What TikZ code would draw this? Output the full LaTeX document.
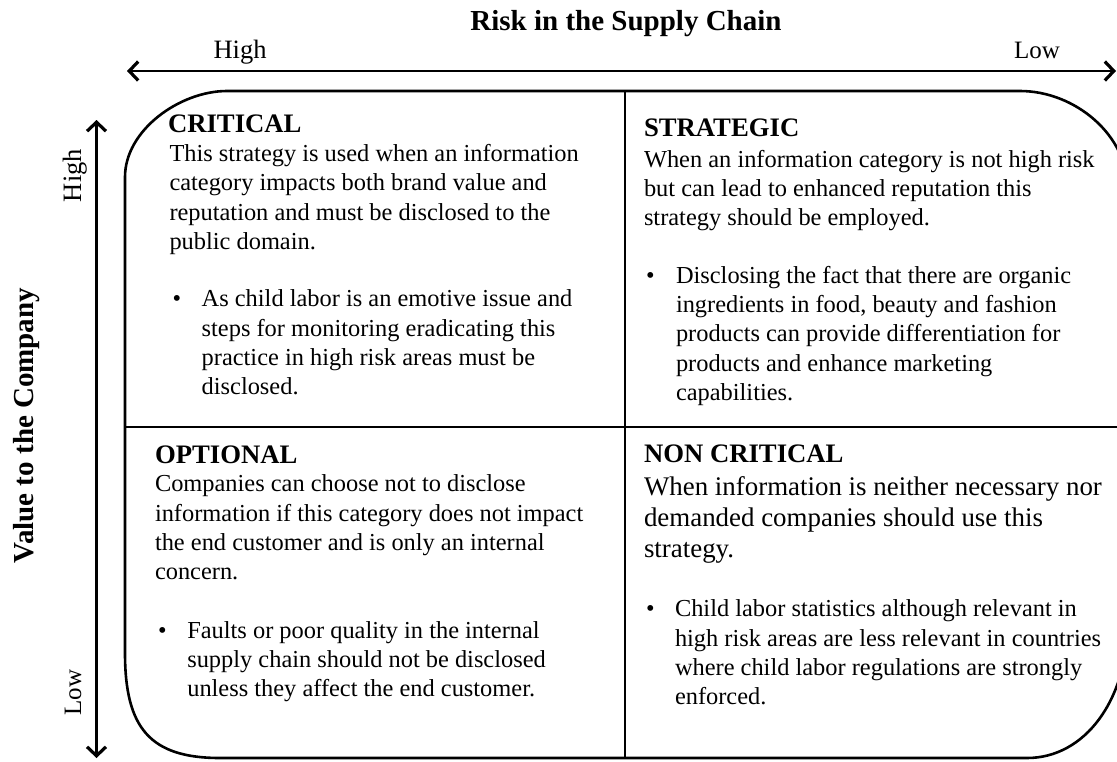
\documentclass[tikz,border=0pt]{standalone}
\usepackage{fontspec}
\setmainfont{Liberation Serif}
\usetikzlibrary{arrows.meta}
\newcommand\qbody{\fontsize{24.4}{29.3}\selectfont}
\newcommand\qbig{\fontsize{26.9}{31}\selectfont}
\newcommand\qtitle{\fontsize{26.7}{30}\selectfont\bfseries}
\newcommand\axishigh{\fontsize{26.5}{30}\selectfont}
\newcommand\axislow{\fontsize{25}{30}\selectfont}
\newcommand\axistitle{\fontsize{29}{33}\selectfont\bfseries}
\begin{document}
\begin{tikzpicture}[x=1pt,y=-1pt,
  every node/.style={inner sep=0pt,outer sep=0pt},
  tip/.tip={Straight Barb[length=9pt,width=19pt,line width=3.2pt]},
  axisarrow/.style={line width=2.6pt,{tip}-{tip}},
  boxline/.style={line width=2.6pt,line join=round},
  divider/.style={line width=2.2pt},
  ttl/.style={anchor=base west,font=\qtitle},
  txt/.style={anchor=base west,font=\qbody,align=left},
  bullet/.style={anchor=base west,font=\qbody}]
\useasboundingbox (0,0) rectangle (1117,761);
\clip (0,0) rectangle (1117,761);
% axes
\coordinate (hL) at (127,71);
\coordinate (hR) at (1116,71);
\coordinate (vT) at (96.5,120);
\coordinate (vB) at (96.5,758);
\draw[axisarrow] (hL) -- (hR);
\draw[axisarrow] (vB) -- (vT);
\node[anchor=base,font=\axistitle] (risk) at (626,30.5) {Risk in the Supply Chain};
\node[anchor=base,font=\axishigh] (hhigh) at (240,58) {High};
\node[anchor=base,font=\axislow] (hlow) at (1037,58) {Low};
\node[anchor=base,rotate=90,font=\axistitle] (value) at (33.5,425.5) {Value to the Company};
\node[anchor=base,rotate=90,font=\axishigh] (vhigh) at (81,175.5) {High};
\node[anchor=base,rotate=90,font=\axislow] (vlow) at (81,692.5) {Low};
% frame
\draw[boxline] (227,91) -- (1020,91)
  .. controls (1075,91) and (1128,135) .. (1128,190) -- (1128,620)
  .. controls (1128,700) and (1085,758) .. (1027,758) -- (220,758)
  .. controls (150,758) and (125,728) .. (125,653) -- (125,177)
  .. controls (125,130) and (180,91) .. (227,91) -- cycle;
\coordinate (dT) at (625,91);
\coordinate (dB) at (625,758);
\coordinate (dL) at (125,427);
\coordinate (dR) at (1128,427);
\draw[divider] (dT) -- (dB);
\draw[divider] (dL) -- (dR);
% CRITICAL
\node[ttl] (crit) at (168,132.7) {CRITICAL};
\node[txt] (critb) at (169.5,161.5) {\begin{tabular}[t]{@{}l@{}}This strategy is used when an information\\category impacts both brand value and\\reputation and must be disclosed to the\\public domain.\end{tabular}};
\node[bullet] (critd) at (172.7,306.7) {•};
\node[txt] (critt) at (201.7,306.7) {\begin{tabular}[t]{@{}l@{}}As child labor is an emotive issue and\\steps for monitoring eradicating this\\practice in high risk areas must be\\disclosed.\end{tabular}};
% STRATEGIC
\node[ttl] (strat) at (644,136.7) {STRATEGIC};
\node[txt] (stratb) at (644,167.3) {\begin{tabular}[t]{@{}l@{}}When an information category is not high risk\\but can lead to enhanced reputation this\\strategy should be employed.\end{tabular}};
\node[bullet] (stratd) at (646,283.3) {•};
\node[txt] (stratt) at (676,283.3) {\begin{tabular}[t]{@{}l@{}}Disclosing the fact that there are organic\\ingredients in food, beauty and fashion\\products can provide differentiation for\\products and enhance marketing\\capabilities.\end{tabular}};
% OPTIONAL
\node[ttl] (opt) at (155,463.3) {OPTIONAL};
\node[txt] (optb) at (155,491.7) {\begin{tabular}[t]{@{}l@{}}Companies can choose not to disclose\\information if this category does not impact\\the end customer and is only an internal\\concern.\end{tabular}};
\node[bullet] (optd) at (158,638.3) {•};
\node[txt] (optt) at (187.3,638.3) {\begin{tabular}[t]{@{}l@{}}Faults or poor quality in the internal\\supply chain should not be disclosed\\unless they affect the end customer.\end{tabular}};
% NON CRITICAL
\node[ttl] (non) at (644,462.7) {NON CRITICAL};
\node[txt,font=\qbig] (nonb) at (644,495) {\begin{tabular}[t]{@{}l@{}}When information is neither necessary nor\\demanded companies should use this\\strategy.\end{tabular}};
\node[bullet] (nond) at (646,616.7) {•};
\node[txt] (nont) at (675,616.7) {\begin{tabular}[t]{@{}l@{}}Child labor statistics although relevant in\\high risk areas are less relevant in countries\\where child labor regulations are strongly\\enforced.\end{tabular}};
\end{tikzpicture}
\end{document}
